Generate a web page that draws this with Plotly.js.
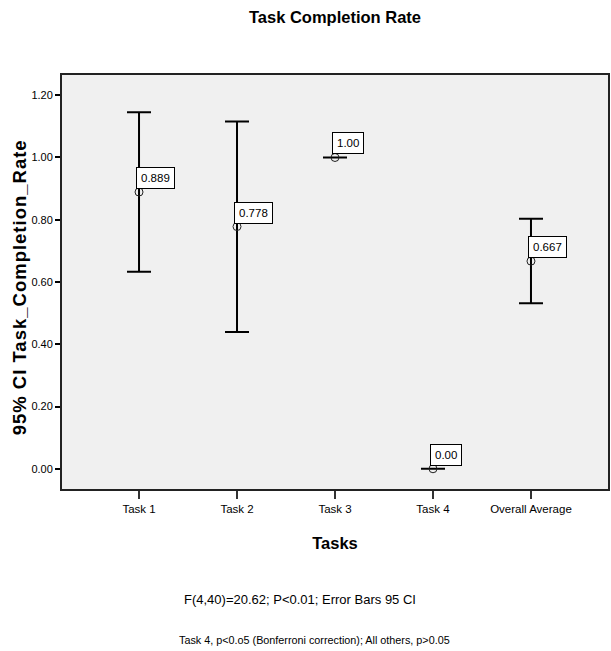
<!DOCTYPE html>
<html>
<head>
<meta charset="utf-8">
<script src="https://cdn.plot.ly/plotly-3.0.1.min.js"></script>
<style>html,body{margin:0;padding:0;background:#fff;}#chart{width:611px;height:651px;}
.ytitlefix{letter-spacing:1px;}</style>
</head>
<body>
<div id="chart"></div>
<script>
const categories = ["Task 1", "Task 2", "Task 3", "Task 4", "Overall Average"];
const means = [0.889, 0.778, 1.00, 0.00, 0.667];
const upperCI = [1.145, 1.116, 1.00, 0.00, 0.803];
const lowerCI = [0.633, 0.439, 1.00, 0.00, 0.532];
const labels = ["0.889", "0.778", "1.00", "0.00", "0.667"];
const yTicks = [0, 0.2, 0.4, 0.6, 0.8, 1.0, 1.2];
const yTickText = ["0.00", "0.20", "0.40", "0.60", "0.80", "1.00", "1.20"];

const FONT = "Liberation Sans Narrow, Arial Narrow, Liberation Sans, Arial, sans-serif";
const xIdx = categories.map((c, i) => i);

const trace = {
  type: "scatter",
  mode: "markers",
  x: xIdx,
  y: means,
  marker: {symbol: "circle-open", size: 8, color: "#222", line: {width: 1, color: "#222"}},
  error_y: {
    type: "data",
    symmetric: false,
    array: upperCI.map((u, i) => u - means[i]),
    arrayminus: lowerCI.map((l, i) => means[i] - l),
    color: "#000",
    thickness: 2,
    width: 12
  },
  hoverinfo: "skip",
  showlegend: false
};

const annotations = labels.map((t, i) => ({
  x: xIdx[i], y: means[i], xref: "x", yref: "y",
  text: t, showarrow: false,
  xanchor: "left", yanchor: "bottom",
  xshift: -3, yshift: 3,
  bgcolor: "#fff", bordercolor: "#000", borderwidth: 1, borderpad: 4,
  font: {family: FONT, size: 11.5, color: "#000"}
}));
annotations.push({
  xref: "paper", yref: "paper", x: 0.436, y: -0.266, yanchor: "middle",
  text: "F(4,40)=20.62; P<0.01; Error Bars 95 CI", showarrow: false,
  font: {family: FONT, size: 13, color: "#000"}
});
annotations.push({
  xref: "paper", yref: "paper", x: 0.463, y: -0.365, yanchor: "middle",
  text: "Task 4, p<0.o5 (Bonferroni correction); All others, p>0.05", showarrow: false,
  font: {family: FONT, size: 10.8, color: "#000"}
});
annotations.push({
  xref: "paper", yref: "paper", x: -0.079, y: 0.5, xanchor: "center", yanchor: "middle",
  yshift: -5, textangle: -90,
  text: "<b>95% CI Task_Completion_Rate</b>", showarrow: false,
  font: {family: "Liberation Sans, Arial, sans-serif", size: 18.5, color: "#000"}
});

const layout = {
  width: 611, height: 651,
  margin: {l: 62, r: 3, t: 75, b: 162},
  paper_bgcolor: "#fff",
  plot_bgcolor: "#f0f0f0",
  title: {
    text: "<b>Task Completion Rate</b>",
    x: 0.5, xref: "paper", y: 0.974, yref: "container", yanchor: "middle",
    font: {family: FONT, size: 16.5, color: "#000"}
  },
  xaxis: {
    range: [-0.786, 4.786],
    tickvals: xIdx, ticktext: categories,
    ticks: "outside", ticklen: 8, tickwidth: 2, tickcolor: "#333",
    showgrid: false, zeroline: false,
    showline: true, linecolor: "#222", linewidth: 2, mirror: true,
    tickfont: {family: FONT, size: 11.5, color: "#000"},
    title: {text: "<b>Tasks</b>", standoff: 24, font: {family: FONT, size: 16.5, color: "#000"}}
  },
  yaxis: {
    range: [-0.065, 1.265],
    tickvals: yTicks, ticktext: yTickText,
    ticks: "outside", ticklen: 5, tickwidth: 2, tickcolor: "#000",
    showgrid: false, zeroline: false,
    showline: true, linecolor: "#222", linewidth: 2, mirror: true,
    tickfont: {family: FONT, size: 11, color: "#000"}
  },
  annotations: annotations
};

Plotly.newPlot("chart", [trace], layout, {displayModeBar: false, staticPlot: true}).then(() => {
  const anns = document.querySelectorAll("#chart .annotation-text");
  anns.forEach(a => { if (a.textContent.indexOf("95% CI") === 0) a.classList.add("ytitlefix"); });
});
</script>
</body>
</html>
